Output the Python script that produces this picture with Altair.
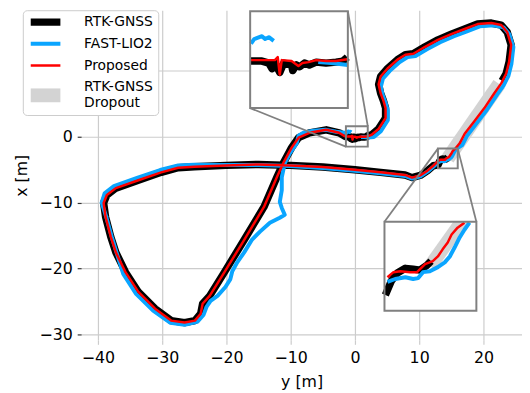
import math
import altair as alt
import pandas as pd

# ---------------- data (horizontal = "y [m]", vertical = "x [m]") ----------------
series_names = ["RTK-GNSS", "FAST-LIO2", "Proposed", "RTK-GNSS Dropout"]
series_colors = ["#000000", "#0aa5ff", "#ff0000", "#d3d3d3"]
series_widths = [7.5, 4, 2.5, 14]

# shared route segments (RTK-GNSS / Proposed)
diag_y = [22.77, 21.69, 20.15, 18.62, 17.08, 16.3]
diag_x = [8.1, 6.6, 4.35, 2.4, 0.45, -1.0]

route_y = [12.2, 11.3, 10.2, 8.9, 7.8, 4.0, 0.0, -5.0, -10.0, -15.0, -20.0, -25.0, -27.5,
           -30.15, -33.7, -37.2, -38.6, -39.1, -38.8, -38.0, -37.2, -35.7, -33.7, -31.1,
           -28.6, -26.5, -24.9, -24.0, -23.7, -22.6, -20.3, -17.2, -14.15, -12.15, -11.1,
           -9.85, -8.77, -7.08, -4.46, -2.46, -1.6]
route_x = [-4.4, -5.15, -5.85, -6.2, -5.8, -5.4, -5.0, -4.6, -4.35, -4.2, -4.35, -4.55, -4.7,
           -5.4, -6.6, -7.8, -8.85, -10.05, -12.15, -15.15, -17.55, -20.55, -23.55, -26.1,
           -27.9, -28.2, -27.9, -26.85, -25.35, -24.15, -20.55, -15.6, -10.65, -6.15, -3.9,
           -1.65, -0.15, 0.6, 1.05, 0.6, 0.1]

loop_y = [2.6, 3.69, 4.77, 4.77, 4.46, 4.0, 3.69, 4.0, 5.08, 6.62, 7.85, 9.08, 10.92, 12.92,
          15.08, 17.08, 19.08, 21.23, 22.77, 23.69, 24.31, 24.0, 23.54]
loop_x = [0.3, 1.2, 2.85, 4.35, 5.4, 6.6, 7.95, 9.15, 10.35, 11.7, 12.45, 12.6, 13.65, 14.7,
          15.6, 16.35, 17.1, 17.25, 16.95, 15.9, 13.95, 11.4, 9.6]

# Proposed: detail inside zoom boxes
prop_z2_y = [15.60, 15.37, 15.17, 15.04, 14.87, 14.71, 14.54, 14.28, 14.18, 14.01, 13.78, 13.45, 13.22, 13.02, 12.9]
prop_z2_x = [-1.83, -2.00, -2.23, -2.50, -2.73, -2.97, -3.13, -3.23, -3.33, -3.50, -3.50, -3.47, -3.50, -3.67, -3.75]
prop_z1_y = [-1.37, -0.54, -0.44, -0.37, -0.30, 0.04, 0.28, 0.42, 0.63, 0.90, 1.24, 1.59, 1.98]
prop_z1_x = [0.035, 0.035, 0.13, -0.43, 0.035, 0.004, -0.15, -0.06, -0.03, 0.035, 0.004, 0.004, 0.065]

# RTK-GNSS: detail inside zoom boxes (track starts after the dropout)
rtk_z2_y = [14.48, 14.34, 14.11, 13.88, 13.62, 13.35, 13.15, 12.95]
rtk_z2_x = [-3.13, -3.27, -3.43, -3.40, -3.37, -3.53, -3.80, -4.27]
rtk_z1_y = [-1.40, -0.99, -0.75, -0.64, -0.54, -0.37, -0.23, 0.04, 0.08, 0.21, 0.32, 0.49, 0.66, 0.90, 1.24, 1.59, 1.83, 1.98]
rtk_z1_x = [0.004, 0.004, -0.06, -0.24, -0.06, -0.36, -0.06, -0.12, -0.30, -0.12, -0.18, -0.06, -0.12, -0.03, -0.06, -0.03, 0.004, 0.13]
rtk_end_y = [22.9]
rtk_end_x = [8.5]

# FAST-LIO2 full track
lio_y = [0.97, 1.42, 2.0, 2.95, 4.04, 5.12, 5.12, 4.81, 4.35, 4.04, 4.35, 5.43, 6.97, 8.2, 9.43,
         11.27, 13.27, 15.43, 17.43, 19.43, 21.58, 23.12, 24.04, 24.66, 24.35, 23.89, 23.12,
         22.09, 20.55, 19.02, 17.48, 16.7,
         15.77, 15.60, 15.44, 15.27, 15.11, 14.94, 14.71, 14.44, 14.21, 14.05, 13.88, 13.62, 13.28, 13.02, 12.9,
         12.2, 11.3, 10.2, 8.9, 7.8, 4.0, 0.0, -5.0, -10.0, -15.0, -20.0, -25.0, -27.5,
         -30.3, -33.9, -37.5, -38.95, -39.4, -38.7, -37.85, -37.1, -36.05, -34.05, -31.4, -28.7,
         -26.5, -24.46, -23.54, -23.08, -22.46, -21.38, -20.15, -19.38, -19.08, -18.31, -17.23,
         -16.0, -14.77, -13.23, -11.69, -10.92, -11.38, -11.69, -11.38, -11.38, -10.92, -10.15,
         -9.08, -8.77, -8.0, -6.46, -4.46, -2.92, -1.6,
         -1.37, -1.26, -0.99, -0.88, -0.75, -0.58]
lio_x = [-0.03, -0.06, -0.12, -0.05, 0.85, 2.5, 4.0, 5.05, 6.25, 7.6, 8.8, 10.0, 11.35, 12.1, 12.25,
         13.3, 14.35, 15.25, 16.0, 16.75, 16.9, 16.6, 15.55, 13.6, 11.05, 9.25, 7.75,
         6.35, 4.1, 2.15, 0.2, -1.25,
         -1.83, -2.07, -2.33, -2.67, -2.97, -3.17, -3.33, -3.47, -3.50, -3.70, -3.73, -3.67, -3.73, -3.83, -3.9,
         -4.55, -5.3, -6.0, -6.35, -5.95, -5.55, -5.15, -4.75, -4.45, -4.3, -4.3, -4.25, -4.35,
         -5.05, -6.25, -7.5, -8.6, -10.0, -12.15, -15.15, -17.55, -20.8, -23.85, -26.4, -28.25,
         -28.55, -28.05, -27.0, -25.8, -24.9, -24.15, -22.8, -21.6, -20.4, -19.05, -17.55,
         -15.6, -14.4, -13.05, -12.3, -11.85, -10.8, -9.9, -8.1, -6.15, -4.05, -2.55,
         -1.05, 0.15, 0.6, 0.9, 1.05, 0.75, 0.6,
         0.56, 0.71, 0.80, 0.71, 0.77, 0.65]

# RTK-GNSS dropout stretch
band_y = [14.45, 22.45]
band_x = [-3.3, 8.0]

# zoomed regions and where their insets sit (main-axes data units)
zoom1 = dict(y0=-1.4, y1=2.0, x0=-1.5, x1=1.6)
inset1 = dict(y0=-16.3, y1=-1.1, x0=4.35, x1=19.05)
zoom2 = dict(y0=12.92, y1=16.0, x0=-4.8, x1=-1.8)
inset2 = dict(y0=4.6, y1=18.9, x0=-26.4, x1=-12.9)

x_ticks = [-40, -30, -20, -10, 0, 10, 20]
y_ticks = [-30, -20, -10, 0, 10]

# ---------------- layout ----------------
W, H = 446, 334
XD = [-42.6, 26.0]
YD = [-30.9, 19.2]


def px(v):
    return (v - XD[0]) / (XD[1] - XD[0]) * W


def py(v):
    return (YD[1] - v) / (YD[1] - YD[0]) * H


def frame(ys, xs, name):
    return pd.DataFrame({"y": ys, "x": xs, "i": range(len(ys)), "series": name})


prop_df = frame(diag_y + prop_z2_y + route_y + prop_z1_y + loop_y + diag_y[:1],
                diag_x + prop_z2_x + route_x + prop_z1_x + loop_x + diag_x[:1], "Proposed")
rtk_df = frame(rtk_z2_y + route_y + rtk_z1_y + loop_y + rtk_end_y,
               rtk_z2_x + route_x + rtk_z1_x + loop_x + rtk_end_x, "RTK-GNSS")
lio_df = frame(lio_y, lio_x, "FAST-LIO2")
band_df = frame(band_y, band_x, "RTK-GNSS Dropout")

label_expr = ("datum.label == 'RTK-GNSS Dropout' ? ['RTK-GNSS', ' Dropout'] "
              ": datum.label + '   '")
label_base = alt.ExprRef(expr="datum.value == 'RTK-GNSS Dropout' ? 'line-bottom' : 'middle'")
legend = alt.Legend(title=None, labelExpr=label_expr, labelBaseline=label_base)
color_enc = alt.Color("series:N",
                      scale=alt.Scale(domain=series_names, range=series_colors),
                      legend=legend)
sw_enc = alt.StrokeWidth("series:N",
                         scale=alt.Scale(type="ordinal", domain=series_names, range=series_widths),
                         legend=legend)

main_xs = alt.Scale(domain=XD, nice=False, zero=False)
main_ys = alt.Scale(domain=YD, nice=False, zero=False)


def inset_scales(z, b):
    xs = alt.Scale(domain=[z["y0"], z["y1"]], range=[px(b["y0"]), px(b["y1"])], nice=False, zero=False)
    ys = alt.Scale(domain=[z["x0"], z["x1"]], range=[py(b["x0"]), py(b["x1"])], nice=False, zero=False)
    return xs, ys


def traj(df, xs, ys, zoom=None, axes=False):
    base = alt.Chart(df)
    detail = alt.Detail("series:N")
    if zoom is not None:
        base = (base.transform_filter(
            f"datum.y >= {zoom['y0']} && datum.y <= {zoom['y1']} && "
            f"datum.x >= {zoom['x0']} && datum.x <= {zoom['x1']}")
            .transform_window(prev="lag(i)", sort=[alt.SortField("i")])
            .transform_calculate(brk="datum.prev == null || datum.i - datum.prev > 1 ? 1 : 0")
            .transform_window(run="sum(brk)", sort=[alt.SortField("i")], frame=[None, 0]))
        detail = alt.Detail("run:N")
    if axes:
        xe = alt.X("y:Q", scale=xs, axis=alt.Axis(values=x_ticks, title="y [m]"))
        ye = alt.Y("x:Q", scale=ys, axis=alt.Axis(values=y_ticks, title="x [m]"))
    else:
        xe = alt.X("y:Q", scale=xs, axis=None)
        ye = alt.Y("x:Q", scale=ys, axis=None)
    return base.mark_line(strokeJoin="round", strokeCap="butt").encode(
        x=xe, y=ye, color=color_enc, strokeWidth=sw_enc, order="i:Q", detail=detail)


# main panel
band_main = alt.Chart(band_df).mark_line(strokeCap="butt").encode(
    x=alt.X("y:Q", scale=main_xs, axis=alt.Axis(values=x_ticks, title="y [m]")),
    y=alt.Y("x:Q", scale=main_ys, axis=alt.Axis(values=y_ticks, title="x [m]")),
    color=color_enc, strokeWidth=sw_enc, order="i:Q")

boxes_df = pd.DataFrame([
    dict(y=zoom1["y0"], y2=zoom1["y1"], x=zoom1["x0"], x2=zoom1["x1"]),
    dict(y=zoom2["y0"], y2=zoom2["y1"], x=zoom2["x0"], x2=zoom2["x1"]),
])
conn_df = pd.DataFrame([
    dict(y=zoom1["y0"], x=zoom1["x0"], y2=inset1["y0"], x2=inset1["x0"]),
    dict(y=zoom1["y1"], x=zoom1["x1"], y2=inset1["y1"], x2=inset1["x1"]),
    dict(y=zoom2["y0"], x=zoom2["x1"], y2=inset2["y0"], x2=inset2["x1"]),
    dict(y=zoom2["y1"], x=zoom2["x1"], y2=inset2["y1"], x2=inset2["x1"]),
])
small_boxes = alt.Chart(boxes_df).mark_rect(fillOpacity=0, stroke="#808080", strokeWidth=2).encode(
    x=alt.X("y:Q", scale=main_xs), x2="y2:Q", y=alt.Y("x:Q", scale=main_ys), y2="x2:Q")
connectors = alt.Chart(conn_df).mark_rule(color="#808080", strokeWidth=1.8).encode(
    x=alt.X("y:Q", scale=main_xs), x2="y2:Q", y=alt.Y("x:Q", scale=main_ys), y2="x2:Q")

main = alt.layer(
    band_main,
    traj(rtk_df, main_xs, main_ys, axes=True),
    traj(lio_df, main_xs, main_ys, axes=True),
    traj(prop_df, main_xs, main_ys, axes=True),
    small_boxes,
    connectors,
)


def inset_layer(z, b, extra=None):
    xs, ys = inset_scales(z, b)
    zdf = pd.DataFrame([dict(y=z["y0"], y2=z["y1"], x=z["x0"], x2=z["x1"])])
    bg = alt.Chart(zdf).mark_rect(fill="white", strokeWidth=0).encode(
        x=alt.X("y:Q", scale=xs, axis=None), x2="y2:Q",
        y=alt.Y("x:Q", scale=ys, axis=None), y2="x2:Q")
    fr = alt.Chart(zdf).mark_rect(fillOpacity=0, stroke="#808080", strokeWidth=2).encode(
        x=alt.X("y:Q", scale=xs, axis=None), x2="y2:Q",
        y=alt.Y("x:Q", scale=ys, axis=None), y2="x2:Q")
    layers = [bg]
    if extra is not None:
        layers.append(extra(xs, ys))
    layers += [traj(rtk_df, xs, ys, zoom=z), traj(lio_df, xs, ys, zoom=z),
               traj(prop_df, xs, ys, zoom=z), fr]
    return alt.layer(*layers)


def band_patch(xs, ys):
    # dropout stripe clipped at the top edge of zoom box 2, built in the inset's pixel frame
    sx = (px(inset2["y1"]) - px(inset2["y0"])) / (zoom2["y1"] - zoom2["y0"])
    sy = (py(inset2["x0"]) - py(inset2["x1"])) / (zoom2["x1"] - zoom2["x0"])
    p0 = ((band_y[0] - zoom2["y0"]) * sx, (band_x[0] - zoom2["x0"]) * sy)
    dx, dy = (band_y[1] - band_y[0]) * sx, (band_x[1] - band_x[0]) * sy
    L = math.hypot(dx, dy)
    dx, dy = dx / L, dy / L
    nx, ny = -dy, dx
    hw = series_widths[3] / 2
    A = (p0[0] + hw * nx, p0[1] + hw * ny)
    B = (p0[0] - hw * nx, p0[1] - hw * ny)
    top = (zoom2["x1"] - zoom2["x0"]) * sy
    k = dx / dy
    rows = [(B[1], B[0], B[0]),
            (A[1], A[0], B[0] + (A[1] - B[1]) * k),
            (top, A[0] + (top - A[1]) * k, B[0] + (top - B[1]) * k)]
    pdf = pd.DataFrame([dict(x=zoom2["x0"] + r[0] / sy,
                             yl=zoom2["y0"] + r[1] / sx,
                             yr=zoom2["y0"] + r[2] / sx,
                             series="RTK-GNSS Dropout") for r in rows])
    return alt.Chart(pdf).mark_area(orient="horizontal").encode(
        y=alt.Y("x:Q", scale=ys, axis=None),
        x=alt.X("yl:Q", scale=xs, axis=None), x2="yr:Q",
        color=color_enc)


chart = alt.layer(
    main,
    inset_layer(zoom1, inset1),
    inset_layer(zoom2, inset2, extra=band_patch),
).resolve_scale(x="independent", y="independent").properties(
    width=W, height=H,
    autosize=alt.AutoSizeParams(type="none"),
    padding={"left": 74, "top": 0, "right": 0, "bottom": 51},
).configure(font="DejaVu Sans").configure_view(stroke=None).configure_axis(
    labelFontSize=16, titleFontSize=16, labelColor="black", titleColor="black",
    titleFontWeight="normal", domain=False, gridColor="#cccccc", gridWidth=1.2,
    tickColor="#333333", tickSize=4, tickWidth=1.2, labelPadding=5,
).configure_axisY(titlePadding=10).configure_axisX(
    titlePadding=9, tickColor="#cccccc").configure_legend(
    orient="none", legendX=-59, legendY=0, labelFontSize=14, labelColor="black",
    symbolType="M-15,0H15", symbolSize=4, symbolOffset=10, labelOffset=31,
    padding=5, rowPadding=8, clipHeight=14,
    fillColor="white", strokeColor="#cccccc", cornerRadius=4,
)

chart.save("out.html", embed_options={"renderer": "svg", "actions": False})
